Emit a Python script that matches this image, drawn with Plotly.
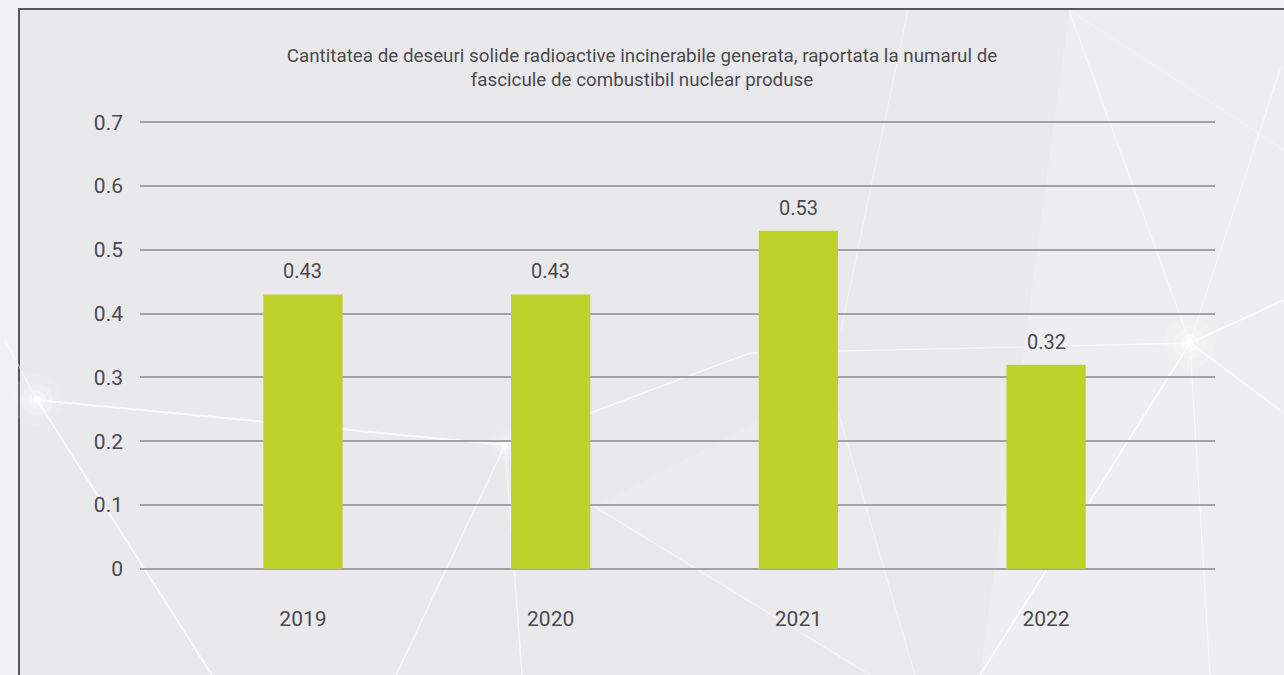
import plotly.graph_objects as go

categories = ["2019", "2020", "2021", "2022"]
values = [0.43, 0.43, 0.53, 0.32]
value_labels = ["0.43", "0.43", "0.53", "0.32"]
y_ticks = [0, 0.1, 0.2, 0.3, 0.4, 0.5, 0.6, 0.7]
y_tick_labels = ["0", "0.1", "0.2", "0.3", "0.4", "0.5", "0.6", "0.7"]
title_text = ("Cantitatea de deseuri solide radioactive incinerabile generata, raportata la numarul de"
              "<br>fascicule de combustibil nuclear produse")

W, H = 1284, 675
L, R, T, B = 140, 1215, 119, 572
FONT = "Roboto, Liberation Sans, sans-serif"
TXT = "#4a4a4c"


def px(x):
    return (x - L) / (R - L)


def py(y):
    return (B - y) / (B - T)


fig = go.Figure()
fig.add_trace(go.Bar(
    x=list(range(len(categories))), y=values, width=0.32,
    marker=dict(color="#BED22C", line=dict(width=0)),
    hoverinfo="skip",
))

shapes = []
# outer panel with border (top/left visible)
shapes.append(dict(type="rect", xref="paper", yref="paper", layer="below",
                   x0=px(19), x1=px(1300), y0=py(690), y1=py(9),
                   fillcolor="#e9e9ec", line=dict(color="#58585a", width=2)))
# soft lighter areas
shapes.append(dict(type="path", xref="paper", yref="paper", layer="below",
                   path="M {} {} L {} {} L {} {} L {} {} Z".format(
                       px(1069), py(10), px(1284), py(10), px(1284), py(675), px(980), py(675)),
                   fillcolor="white", line=dict(width=0), opacity=0.22))
shapes.append(dict(type="path", xref="paper", yref="paper", layer="below",
                   path="M {} {} L {} {} L {} {} L {} {} Z".format(
                       px(595), py(507), px(830), py(383), px(915), py(675), px(870), py(675)),
                   fillcolor="white", line=dict(width=0), opacity=0.12))
# decorative light streaks
streaks = [
    ((37, 400), (505, 445), 2.0, 0.75),
    ((37, 400), (212, 675), 2.0, 0.75),
    ((5, 340), (37, 400), 1.5, 0.5),
    ((505, 445), (396, 675), 1.5, 0.65),
    ((505, 445), (522, 675), 1.5, 0.6),
    ((505, 445), (750, 353), 1.5, 0.65),
    ((750, 353), (1190, 343), 1.5, 0.6),
    ((595, 507), (870, 675), 1.2, 0.5),
    ((830, 383), (915, 675), 1.2, 0.45),
    ((980, 675), (1190, 343), 1.8, 0.8),
    ((1190, 343), (1284, 300), 1.5, 0.75),
    ((1190, 343), (1284, 413), 1.5, 0.6),
    ((1190, 343), (1281, 67), 1.2, 0.5),
    ((1190, 343), (1069, 10), 1.2, 0.5),
    ((1190, 343), (1210, 675), 1.2, 0.55),
    ((908, 10), (841, 330), 1.0, 0.45),
    ((1069, 10), (1284, 150), 1.0, 0.35),
]
for (x0, y0), (x1, y1), w, op in streaks:
    shapes.append(dict(type="line", xref="paper", yref="paper", layer="below",
                       x0=px(x0), y0=py(y0), x1=px(x1), y1=py(y1),
                       line=dict(color="white", width=w), opacity=op))
# soft glare spots
for (cx, cy) in [(1190, 343), (37, 400), (505, 445)]:
    big = 1.0 if cx != 505 else 0.6
    for r, op in [(26, 0.12), (16, 0.2), (9, 0.35), (4, 0.8)]:
        rr = r * big
        shapes.append(dict(type="circle", xref="paper", yref="paper", layer="below",
                           x0=px(cx - rr), x1=px(cx + rr), y0=py(cy + rr), y1=py(cy - rr),
                           fillcolor="white", line=dict(width=0), opacity=op))

annotations = []
for i, (v, lab) in enumerate(zip(values, value_labels)):
    annotations.append(dict(x=i, y=v, xref="x", yref="y", text=lab, showarrow=False,
                            yanchor="bottom", yshift=9,
                            font=dict(family=FONT, size=20, color=TXT)))

fig.update_layout(
    width=W, height=H,
    margin=dict(l=L, r=W - R, t=T, b=H - B),
    paper_bgcolor="#f1f1f3",
    plot_bgcolor="rgba(0,0,0,0)",
    showlegend=False,
    title=dict(text=title_text, x=0.5, xref="container", xanchor="center",
               y=1 - 62 / H, yref="container", yanchor="middle",
               font=dict(family=FONT, size=18.8, color=TXT)),
    xaxis=dict(range=[-0.658, 3.682], tickvals=list(range(len(categories))),
               ticktext=categories, showgrid=False, zeroline=False, showline=False,
               ticks="", ticklabelstandoff=32,
               tickfont=dict(family=FONT, size=21, color=TXT)),
    yaxis=dict(range=[-0.005, 0.705], tickvals=y_ticks, ticktext=y_tick_labels,
               showgrid=True, gridcolor="#a3a3a6", gridwidth=1.5,
               zeroline=False, showline=False, ticks="", ticklabelstandoff=16,
               tickfont=dict(family=FONT, size=21, color=TXT)),
    shapes=shapes,
    annotations=annotations,
)

fig.write_html("out.html", config={"displayModeBar": False},
               post_script="document.body.style.margin='0';")
